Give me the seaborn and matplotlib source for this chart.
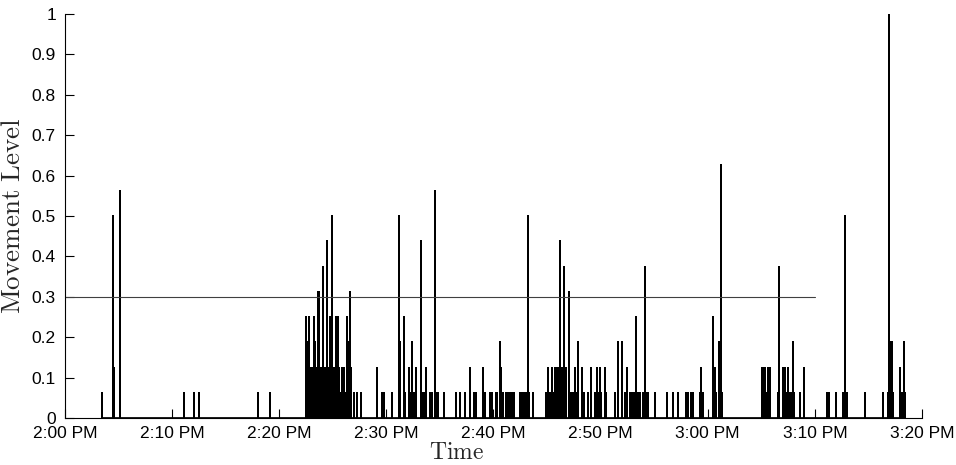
import numpy as np
import pandas as pd
import matplotlib
matplotlib.use("Agg")
import matplotlib.pyplot as plt
import seaborn as sns

# Movement events: minutes after 2:00 PM and the recorded movement level
spike_minutes = [
    3.43, 4.45, 4.51, 4.60, 5.14, 11.11, 12.02, 12.48, 17.99, 19.17,
    22.53, 22.64, 22.72, 22.81, 22.92, 23.02, 23.09, 23.22, 23.31, 23.37,
    23.48, 23.56, 23.65, 23.74, 23.84, 23.95, 24.12, 24.23, 24.32, 24.49,
    24.60, 24.77, 24.93, 25.07, 25.16, 25.26, 25.37, 25.49, 25.61, 25.72,
    25.84, 25.96, 26.08, 26.18, 26.30, 26.42, 26.58, 26.68,
    26.96, 27.24, 27.61, 29.16, 29.57, 29.76, 30.50, 31.21, 31.31, 31.62,
    31.72, 32.12, 32.21, 32.43, 32.54, 32.80, 33.27, 33.40, 33.52, 33.74,
    34.11, 34.27, 34.52, 34.71, 34.86, 35.36, 36.48, 36.91, 37.35, 37.79,
    38.22, 38.41, 39.00, 39.19, 39.71, 39.87, 40.21, 40.36, 40.59, 40.74,
    40.90, 41.15, 41.27, 41.36, 41.58, 41.76, 41.92, 42.46, 42.58, 42.76,
    42.95, 43.09, 43.23, 43.30, 43.73,
    44.94, 45.10, 45.28, 45.47, 45.59, 45.78, 45.91, 46.09, 46.22, 46.41,
    46.59, 46.78, 47.06, 47.27, 47.43, 47.59, 47.71, 47.90, 48.27, 48.46,
    48.83, 49.14, 49.51, 49.70, 49.83, 49.95, 50.08, 50.39, 50.51, 51.33,
    51.63, 51.98, 52.26, 52.45, 52.78, 52.94, 53.13, 53.29, 53.47, 53.72,
    53.94, 54.13, 54.28, 54.44,
    55.09, 56.18, 56.71, 57.21, 57.96, 58.17, 58.42, 58.64, 59.29, 59.41,
    59.57, 60.52, 60.66, 60.78, 61.04, 61.22, 61.31, 65.08, 65.20, 65.33,
    65.45, 65.58, 65.71, 65.83, 66.60, 66.67, 66.98, 67.07, 67.20, 67.35,
    67.48, 67.60, 67.73, 67.84, 67.95, 68.07, 68.60, 68.97, 71.15, 71.31,
    71.96, 72.67, 72.80, 72.95, 73.04, 74.67, 76.37, 76.84, 76.90, 77.05,
    77.18, 77.27, 77.99, 78.12, 78.21, 78.31, 78.40,
]
spike_levels = [
    0.0625, 0.5, 0.1875, 0.125, 0.5625, 0.0625, 0.0625, 0.0625, 0.0625, 0.0625,
    0.25, 0.125, 0.1875, 0.25, 0.125, 0.0625, 0.125, 0.25, 0.125, 0.1875,
    0.125, 0.0625, 0.3125, 0.3125, 0.125, 0.125, 0.375, 0.125, 0.0625, 0.4375,
    0.125, 0.25, 0.5, 0.125, 0.125, 0.25, 0.125, 0.25, 0.125, 0.0625,
    0.125, 0.125, 0.125, 0.0625, 0.25, 0.1875, 0.3125, 0.125,
    0.0625, 0.0625, 0.0625, 0.125, 0.0625, 0.0625, 0.0625, 0.5, 0.1875, 0.25,
    0.0625, 0.125, 0.0625, 0.1875, 0.0625, 0.125, 0.4375, 0.0625, 0.0625, 0.125,
    0.0625, 0.0625, 0.5625, 0.0625, 0.0625, 0.0625, 0.0625, 0.0625, 0.0625, 0.125,
    0.0625, 0.0625, 0.125, 0.0625, 0.0625, 0.0625, 0.0625, 0.0625, 0.1875, 0.125,
    0.0625, 0.0625, 0.0625, 0.0625, 0.0625, 0.0625, 0.0625, 0.0625, 0.0625, 0.0625,
    0.0625, 0.0625, 0.5, 0.0625, 0.0625,
    0.0625, 0.125, 0.0625, 0.125, 0.0625, 0.125, 0.125, 0.125, 0.4375, 0.125,
    0.375, 0.125, 0.3125, 0.0625, 0.0625, 0.125, 0.0625, 0.1875, 0.125, 0.0625,
    0.0625, 0.125, 0.0625, 0.125, 0.0625, 0.125, 0.0625, 0.125, 0.0625, 0.0625,
    0.1875, 0.1875, 0.0625, 0.125, 0.0625, 0.0625, 0.0625, 0.25, 0.0625, 0.0625,
    0.0625, 0.375, 0.0625, 0.0625,
    0.0625, 0.0625, 0.0625, 0.0625, 0.0625, 0.0625, 0.0625, 0.0625, 0.0625, 0.125,
    0.0625, 0.25, 0.125, 0.0625, 0.1875, 0.625, 0.0625, 0.125, 0.125, 0.125,
    0.0625, 0.125, 0.125, 0.125, 0.0625, 0.375, 0.125, 0.0625, 0.125, 0.0625,
    0.125, 0.0625, 0.0625, 0.0625, 0.1875, 0.0625, 0.0625, 0.125, 0.0625, 0.0625,
    0.0625, 0.0625, 0.5, 0.0625, 0.0625, 0.0625, 0.0625, 0.0625, 1.0, 0.1875,
    0.1875, 0.0625, 0.125, 0.0625, 0.0625, 0.1875, 0.0625,
]

# Alert threshold and the span over which it applies
threshold_level = 0.3
threshold_span = [0, 70]

tick_minutes = [0, 10, 20, 30, 40, 50, 60, 70, 80]
tick_labels = ["2:00 PM", "2:10 PM", "2:20 PM", "2:30 PM", "2:40 PM",
               "2:50 PM", "3:00 PM", "3:10 PM", "3:20 PM"]
y_ticks = [0, 0.1, 0.2, 0.3, 0.4, 0.5, 0.6, 0.7, 0.8, 0.9, 1.0]
y_tick_labels = ["0", "0.1", "0.2", "0.3", "0.4", "0.5", "0.6", "0.7", "0.8", "0.9", "1"]

sns.set_style("ticks")
plt.rcParams["font.family"] = ["Liberation Sans", "DejaVu Sans"]
plt.rcParams["mathtext.fontset"] = "cm"

# each event becomes a vertical stroke: baseline -> level -> baseline
t = np.asarray(spike_minutes)
v = np.asarray(spike_levels)
path = pd.DataFrame({
    "minute": np.repeat(t, 3),
    "level": np.column_stack([np.zeros_like(v), v, np.zeros_like(v)]).ravel(),
})
thresh = pd.DataFrame({"minute": threshold_span,
                       "level": [threshold_level] * len(threshold_span)})

fig = plt.figure(figsize=(9.56, 4.65), dpi=100)
ax = fig.add_axes([65 / 956, 47 / 465, 857 / 956, 404 / 465])

sns.lineplot(data=path, x="minute", y="level", ax=ax, sort=False,
             estimator=None, color="black", linewidth=1.25)
sns.lineplot(data=thresh, x="minute", y="level", ax=ax, sort=False,
             estimator=None, color="0.25", linewidth=0.8)

ax.set_xlim(0, 80)
ax.set_ylim(0, 1)
ax.set_xticks(tick_minutes)
ax.set_xticklabels(tick_labels)
ax.set_yticks(y_ticks)
ax.set_yticklabels(y_tick_labels)

for side in ("top", "right"):
    ax.spines[side].set_visible(False)
for side in ("left", "bottom"):
    ax.spines[side].set_linewidth(0.8)
    ax.spines[side].set_color("black")

ax.tick_params(axis="both", direction="in", length=6.2, width=0.8,
               color="black", labelsize=12.5, labelcolor="black")
ax.tick_params(axis="y", pad=6.5)
ax.tick_params(axis="x", pad=5.5)

ax.set_xlabel(r"$\mathrm{Time}$", fontsize=17)
ax.set_ylabel(r"$\mathrm{Movement\ Level}$", fontsize=19.5)
ax.xaxis.set_label_coords(0.457, -0.06)
ax.yaxis.set_label_coords(-0.045, 0.5)

fig.savefig("out.png", dpi=100, facecolor="white")
